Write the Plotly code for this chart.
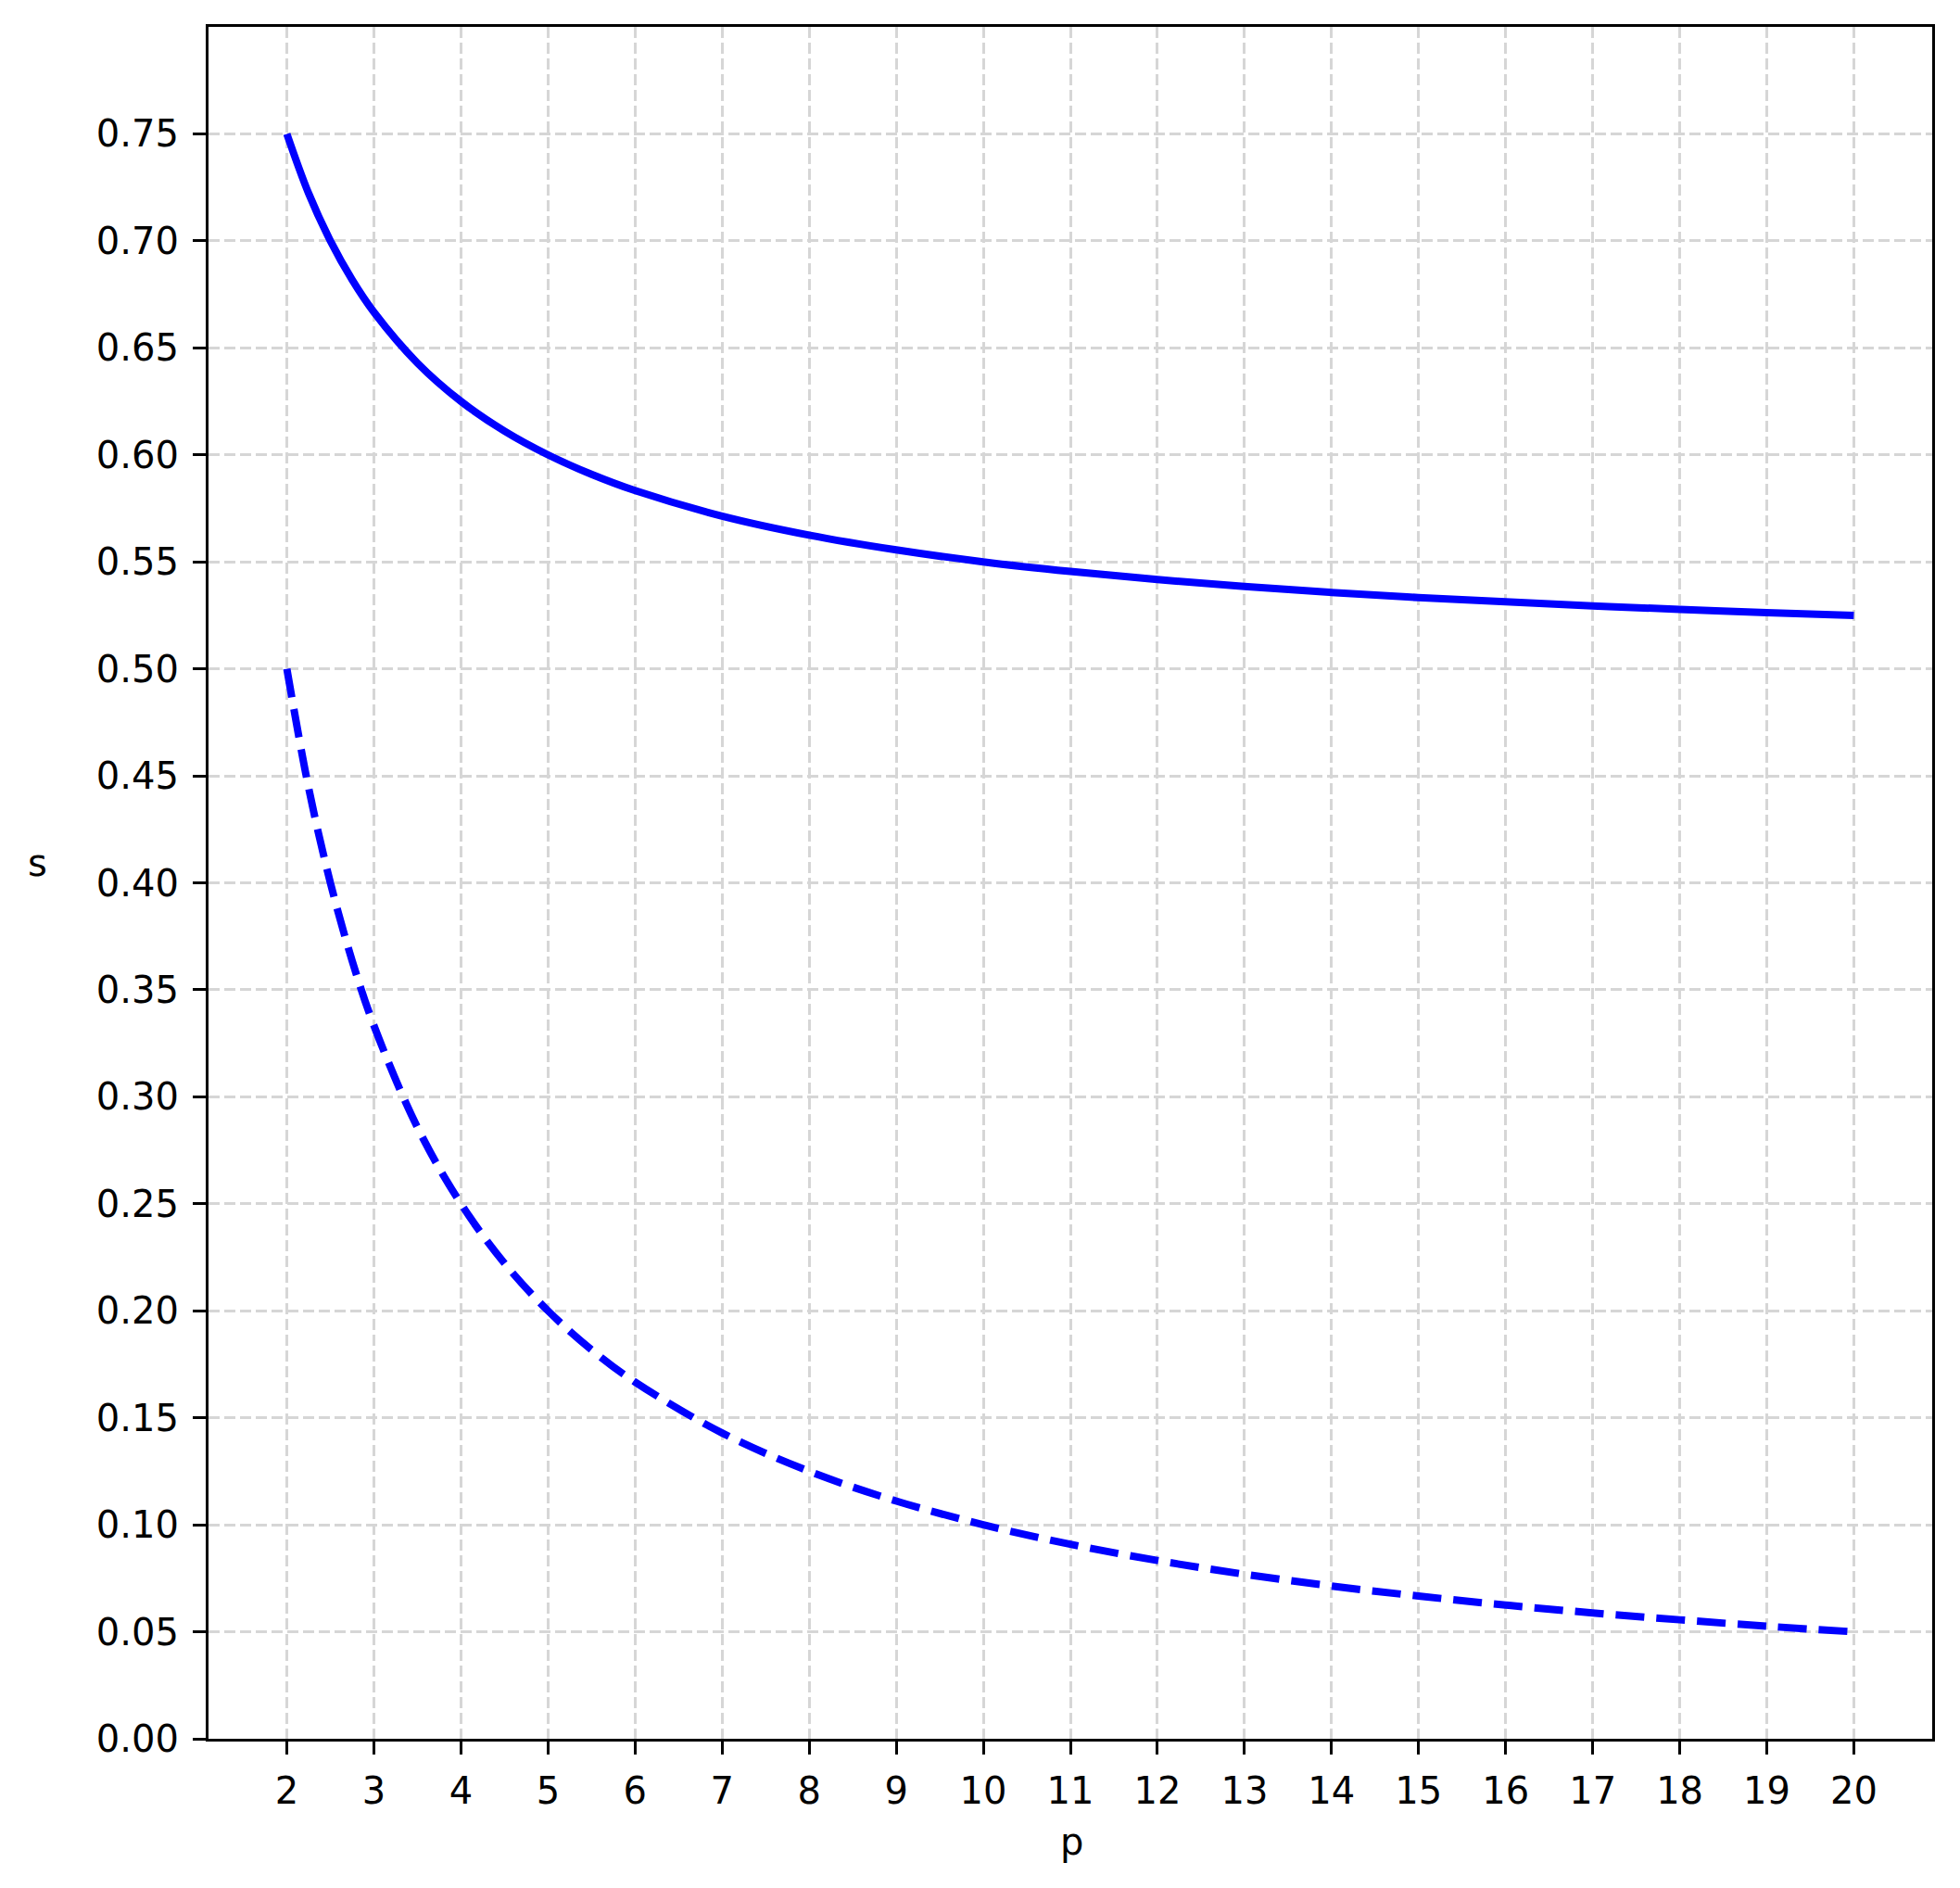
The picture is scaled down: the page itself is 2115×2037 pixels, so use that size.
import plotly.graph_objects as go

# values
p_vals = [2, 2.25, 2.5, 2.75, 3, 3.5, 4, 4.5, 5, 5.5, 6, 7, 8, 9, 10, 11, 12, 13, 14, 15, 16, 17, 18, 19, 20]
s_upper = [0.7500, 0.7222, 0.7000, 0.6818, 0.6667, 0.6429, 0.6250, 0.6111, 0.6000, 0.5909, 0.5833,
           0.5714, 0.5625, 0.5556, 0.5500, 0.5455, 0.5417, 0.5385, 0.5357, 0.5333, 0.5313, 0.5294,
           0.5278, 0.5263, 0.5250]
s_lower = [0.5000, 0.4444, 0.4000, 0.3636, 0.3333, 0.2857, 0.2500, 0.2222, 0.2000, 0.1818, 0.1667,
           0.1429, 0.1250, 0.1111, 0.1000, 0.0909, 0.0833, 0.0769, 0.0714, 0.0667, 0.0625, 0.0588,
           0.0556, 0.0526, 0.0500]
x_ticks = list(range(2, 21))
y_ticks = [round(0.05 * i, 2) for i in range(16)]

FONT = "DejaVu Sans"
W, H = 2115, 2037
ML, MR, MT, MB = 217, 38, 21, 169

fig = go.Figure()
fig.add_trace(go.Scatter(x=p_vals, y=s_upper, mode="lines",
                         line=dict(color="#0000ff", width=8, shape="spline", smoothing=1.0),
                         showlegend=False))
fig.add_trace(go.Scatter(x=p_vals, y=s_lower, mode="lines",
                         line=dict(color="#0000ff", width=8, dash="31px,13px", shape="spline", smoothing=1.0),
                         showlegend=False))

axis_common = dict(
    showline=True, linecolor="black", linewidth=3.3, mirror=True,
    ticks="outside", ticklen=14, tickwidth=3.3, tickcolor="black",
    showgrid=True, gridcolor="#d6d6d6", gridwidth=3.3, griddash="12px,5px",
    zeroline=False,
    tickfont=dict(family=FONT, size=40, color="black"),
)
fig.update_xaxes(range=[1.1, 20.9], tickmode="array", tickvals=x_ticks,
                 ticktext=[str(v) for v in x_ticks], ticklabelstandoff=5, **axis_common)
fig.update_yaxes(range=[0, 0.8], tickmode="array", tickvals=y_ticks,
                 ticktext=[f"{v:.2f}" for v in y_ticks], ticklabelstandoff=7, **axis_common)

plot_w = W - ML - MR
plot_h = H - MT - MB
# target page-pixel positions of axis titles (page has 8px body offset)
p_x, p_y = 1156 - 8, 1987 - 8
s_x, s_y = 40 - 8, 931 - 8

fig.update_layout(
    width=W, height=H,
    margin=dict(l=ML, r=MR, t=MT, b=MB),
    plot_bgcolor="white", paper_bgcolor="white",
    font=dict(family=FONT, size=40, color="black"),
    annotations=[
        dict(text="p", xref="paper", yref="paper",
             x=(p_x - ML) / plot_w, y=-(p_y - (H - MB)) / plot_h,
             xanchor="center", yanchor="middle", showarrow=False,
             font=dict(family=FONT, size=40, color="black")),
        dict(text="s", xref="paper", yref="paper",
             x=(s_x - ML) / plot_w, y=1 - (s_y - MT) / plot_h,
             xanchor="center", yanchor="middle", showarrow=False,
             font=dict(family=FONT, size=40, color="black")),
    ],
)

fig.write_html("out.html")
